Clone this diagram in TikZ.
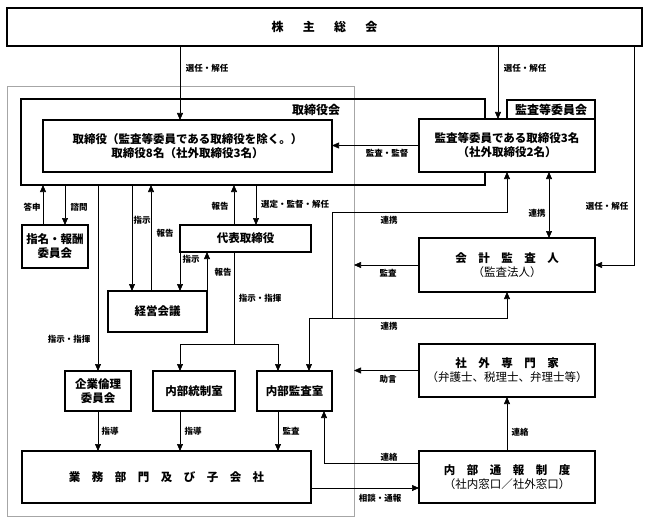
\documentclass[tikz,border=0pt]{standalone}
\usepackage{fontspec}
\setmainfont{Noto Sans CJK JP}
\usetikzlibrary{arrows.meta}

\tikzset{
  box/.style={draw, line width=1.2pt, fill=white, align=center, outer sep=0pt,
    inner sep=1pt, font=\bfseries\fontsize{11.5}{14}\selectfont},
  sz/.style 2 args={minimum width=#1pt, minimum height=#2pt},
  lbl/.style={font=\bfseries\fontsize{8.5}{10}\selectfont, inner sep=0.5pt},
  ttl/.style={font=\bfseries\fontsize{12}{14}\selectfont, inner sep=0pt},
  arr/.style={line width=0.6pt, -{Triangle[length=7pt,width=6pt]}},
  darr/.style={line width=0.6pt, {Triangle[length=7pt,width=6pt]}-{Triangle[length=7pt,width=6pt]}},
  ln/.style={line width=0.6pt},
  frame/.style={draw=gray!70, line width=1pt, outer sep=0pt}
}

\begin{document}
\begin{tikzpicture}[x=1pt, y=-1pt]
  \useasboundingbox (0,0) rectangle (648,524);

  \node[frame, sz={347}{429}] (frame) at (180.5,301.5) {};

  \node[box, sz={635}{38}, font=\bfseries\fontsize{12}{14}\selectfont] (gm) at (324.5,27)
    {株\hspace{1.6em}主\hspace{1.6em}総\hspace{1.6em}会};

  \node[box, fill=none, sz={464}{86}] (board) at (253,142) {};
  \node[ttl] (boardt) at (316,110) {取締役会};
  \node[box, sz={289}{52}] (dirs) at (187.5,146)
    {取締役（監査等委員である取締役を除く。）\\取締役8名（社外取締役3名）};

  \node[box, sz={88}{72}] (acomm) at (551,136) {};
  \node[ttl] (acommt) at (551,110) {監査等委員会};
  \node[box, sz={176}{53}] (acmem) at (507,145.5)
    {監査等委員である取締役3名\\（社外取締役2名）};

  \node[box, sz={66}{43}] (nomc) at (55,246.5) {指名・報酬\\委員会};
  \node[box, sz={131}{27}] (rep) at (245.5,238.5) {代表取締役};
  \node[box, sz={99}{41}] (mgmt) at (157.5,311.5) {経営会議};
  \node[box, sz={176}{54}] (acct) at (507,265)
    {会　計　監　査　人\\{\mdseries （監査法人）}};

  \node[box, sz={66}{40}] (ethic) at (98,391) {企業倫理\\委員会};
  \node[box, sz={82}{40}] (ictl) at (194,391) {内部統制室};
  \node[box, sz={75}{40}] (iaud) at (294.5,391) {内部監査室};
  \node[box, sz={176}{53}] (expert) at (507,370.5)
    {社　外　専　門　家\\{\mdseries （弁護士、税理士、弁理士等）}};

  \node[box, sz={289}{52}] (ops) at (166.5,477)
    {業　務　部　門　及　び　子　会　社};
  \node[box, sz={176}{52}] (whistle) at (507,477)
    {内　部　通　報　制　度\\{\mdseries （社内窓口／社外窓口）}};

  % shareholders
  \draw[arr] (gm.south -| 180,0) -- (dirs.north -| 180,0);
  \node[lbl] (l1) at (207,68) {選任・解任};
  \draw[arr] (gm.south -| 498,0) -- (acmem.north -| 498,0);
  \node[lbl] (l2) at (525,68) {選任・解任};
  \draw[arr] (gm.south -| 634,0) |- (acct.east);
  \node[lbl] (l3) at (607,206) {選任・解任};

  \draw[arr] (acmem.west) -- (dirs.east |- acmem.west);
  \node[lbl] (l4) at (387,153) {監査・監督};

  % board and committees
  \draw[arr] (nomc.north -| 43,0) -- (board.south -| 43,0);
  \node[lbl] (l5) at (32,207) {答申};
  \draw[arr] (board.south -| 65,0) -- (nomc.north -| 65,0);
  \node[lbl] (l6) at (79,207) {諮問};

  \draw[arr] (board.south -| 132,0) -- (mgmt.north -| 132,0);
  \node[lbl] (l7) at (142,220) {指示};
  \draw[arr] (mgmt.north -| 151,0) -- (board.south -| 151,0);
  \node[lbl] (l8) at (165,233) {報告};

  \draw[arr] (rep.north -| 234,0) -- (board.south -| 234,0);
  \node[lbl] (l9) at (220,206) {報告};
  \draw[arr] (board.south -| 256,0) -- (rep.north -| 256,0);
  \node[lbl] (l10) at (295,204) {選定・監督・解任};

  \draw[arr] (rep.south west) -- (rep.south west |- mgmt.north);
  \node[lbl] (l11) at (191,259) {指示};
  \draw[arr] (mgmt.north east) -- (mgmt.north east |- rep.south);
  \node[lbl] (l12) at (223,272) {報告};

  \coordinate (br) at (234,344);
  \draw[ln] (rep.south -| br) -- (br);
  \draw[arr] (br) -| (ictl.north -| 180,0);
  \draw[arr] (br) -| (iaud.north -| 278,0);
  \node[lbl] (l13) at (260,298) {指示・指揮};

  \draw[arr] (board.south -| ethic.north) -- (ethic.north);
  \node[lbl] (l14) at (69,339) {指示・指揮};

  \draw[arr] (ethic.south) -- (ops.north -| ethic.south);
  \node[lbl] (l15) at (110,431) {指導};
  \draw[arr] (ictl.south -| 180,0) -- (ops.north -| 180,0);
  \node[lbl] (l16) at (193,431) {指導};
  \draw[arr] (iaud.south -| 278,0) -- (ops.north -| 278,0);
  \node[lbl] (l17) at (291,431) {監査};

  % audit links
  \draw[darr] (acmem.south -| 549,0) -- (acct.north -| 549,0);
  \node[lbl] (l18) at (537,213) {連携};

  \coordinate (lka) at (309,318);
  \coordinate (lkb) at (332,318);
  \draw[arr] (lkb) -- (332,212) -| (acmem.south);
  \node[lbl] (l19) at (389,220) {連携};
  \draw[darr] (iaud.north -| lka) -- (lka) -| (acct.south);
  \node[lbl] (l20) at (389,326) {連携};

  \draw[arr] (acct.west) -- (frame.east |- acct.west);
  \node[lbl] (l21) at (388,273) {監査};
  \draw[arr] (expert.west) -- (frame.east |- expert.west);
  \node[lbl] (l22) at (388,379) {助言};

  % whistleblowing
  \draw[arr] (whistle.north) -- (expert.south);
  \node[lbl] (l23) at (520,432) {連絡};
  \draw[arr] (whistle.west |- 0,463) -| (iaud.south -| 324,0);
  \node[lbl] (l24) at (389,457) {連絡};
  \draw[arr] (ops.east |- 0,488) -- (whistle.west |- 0,488);
  \node[lbl] (l25) at (380,498) {相談・通報};
\end{tikzpicture}
\end{document}
